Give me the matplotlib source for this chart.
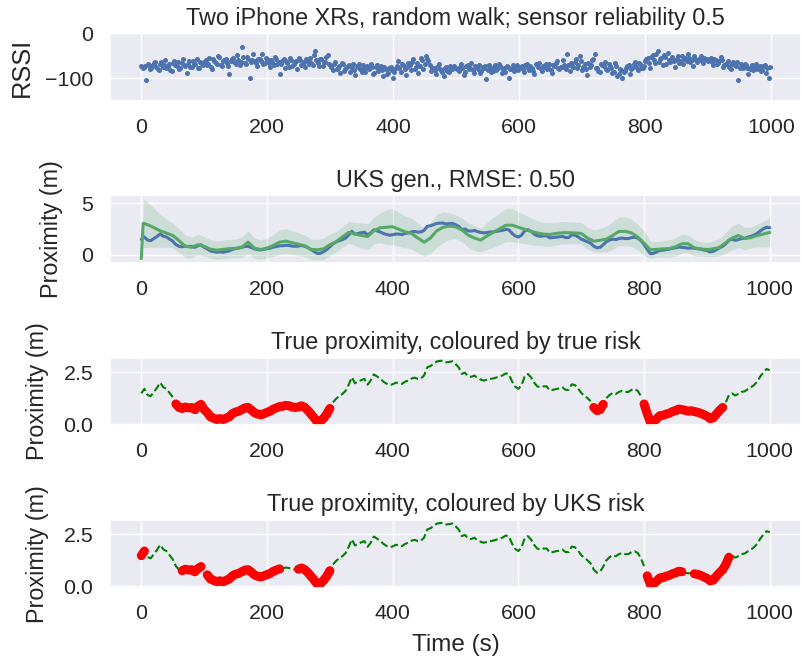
import numpy as np
import matplotlib
matplotlib.use("Agg")
import matplotlib.pyplot as plt
import seaborn as sns

# RSSI samples, one every 4 s (even slots) ...
rssi = [
    -73, -75, -104, -70, -78, -66, -74, -82, -63, -71, -77, -68, -84, -61, -72, -79, -65, -70, -87, -62, -74, -67, -58, -76, -69,
    -64, -71, -55, -80, -62, -68, -52, -73, -60, -66, -91, -57, -63, -48, -70, -31, -65, -53, -98, -59, -61, -72, -56, -45, -66,
    -58, -74, -63, -52, -69, -90, -61, -77, -66, -55, -72, -64, -80, -59, -68, -75, -62, -54, -70, -40, -66, -57, -73, -63, -49,
    -70, -82, -64, -76, -88, -69, -79, -73, -85, -67, -93, -74, -80, -71, -86, -77, -68, -90, -75, -83, -72, -95, -79, -87, -74,
    -100, -78, -62, -85, -70, -93, -66, -82, -58, -75, -88, -54, -80, -50, -62, -84, -76, -90, -68, -82, -95, -74, -86, -79, -72,
    -76, -84, -69, -92, -73, -80, -66, -87, -75, -71, -83, -78, -102, -70, -86, -74, -81, -68, -88, -77, -73, -100, -79, -84, -70,
    -78, -72, -85, -69, -81, -76, -90, -71, -66, -83, -74, -79, -68, -87, -73, -62, -80, -75, -70, -46, -84, -72, -64, -77, -50,
    -82, -68, -92, -75, -60, -45, -78, -86, -70, -64, -81, -73, -88, -66, -95, -79, -98, -84, -72, -90, -76, -63, -81, -69, -77,
    -62, -55, -78, -48, -66, -40, -58, -71, -52, -44, -64, -57, -75, -50, -61, -68, -54, -47, -63, -72, -56, -60, -51, -66, -58,
    -62, -55, -70, -59, -66, -53, -74, -68, -61, -80, -64, -72, -104, -67, -78, -70, -90, -75, -82, -69, -77, -84, -73, -88, -100,
]
# ... and the samples in between (odd 2 s slots)
rssi_odd = [
    -76, -72, -69, -80, -71, -64, -79, -68, -75, -60, -73, -82, -66, -70, -63, -76, -58, -72, -67, -74, -61, -69, -78, -63, -71,
    -60, -67, -74, -58, -65, -50, -70, -62, -56, -72, -61, -54, -68, -59, -64, -52, -69, -57, -63, -47, -66, -58, -61, -68, -55,
    -66, -60, -71, -57, -64, -68, -56, -62, -74, -59, -67, -61, -55, -70, -63, -58, -69, -65, -48, -60, -72, -57, -64, -52, -68,
    -75, -68, -80, -72, -66, -84, -74, -70, -78, -81, -73, -69, -85, -76, -72, -80, -74, -87, -70, -78, -82, -75, -90, -77, -81,
    -85, -72, -77, -67, -80, -74, -70, -63, -79, -66, -73, -60, -68, -57, -71, -78, -82, -74, -79, -86, -77, -83, -72, -80, -76,
    -80, -74, -78, -85, -70, -77, -82, -73, -79, -88, -75, -72, -81, -76, -84, -70, -78, -73, -80, -86, -75, -79, -71, -77, -82,
    -74, -80, -71, -77, -73, -84, -69, -75, -79, -72, -68, -76, -82, -70, -65, -78, -74, -60, -80, -71, -66, -75, -58, -70, -62,
    -74, -79, -66, -71, -58, -76, -83, -69, -73, -80, -67, -77, -85, -72, -90, -82, -86, -76, -70, -79, -68, -74, -65, -78, -72,
    -58, -66, -52, -60, -45, -63, -55, -49, -67, -59, -53, -61, -56, -65, -51, -58, -62, -55, -60, -50, -64, -57, -62, -54, -60,
    -58, -64, -57, -69, -62, -60, -71, -65, -74, -67, -70, -63, -78, -73, -68, -76, -80, -71, -74, -79, -72, -81, -70, -76, -74,
]
rssi_step = 4

# true proximity (m), one every 5 s
true_prox = [
    1.48, 1.70, 1.40, 1.35, 1.55, 1.75, 2.00, 1.78, 1.70, 1.50,
    1.30, 0.97, 0.80, 0.75, 0.82, 0.78, 0.80, 0.70, 0.85, 0.95,
    0.70, 0.55, 0.35, 0.28, 0.22, 0.26, 0.22, 0.28, 0.35, 0.50,
    0.58, 0.62, 0.70, 0.78, 0.80, 0.68, 0.55, 0.48, 0.45, 0.50,
    0.56, 0.62, 0.72, 0.78, 0.84, 0.86, 0.90, 0.88, 0.82, 0.80,
    0.82, 0.88, 0.80, 0.66, 0.48, 0.30, 0.10, 0.12, 0.28, 0.48,
    0.75, 1.05, 1.22, 1.35, 1.45, 1.60, 1.90, 2.26, 1.97, 2.05,
    2.12, 2.18, 1.90, 2.10, 2.40, 2.30, 2.20, 2.05, 1.95, 1.88,
    1.92, 2.00, 1.98, 1.94, 2.05, 2.10, 2.20, 2.24, 2.18, 2.20,
    2.35, 2.74, 2.80, 2.90, 3.02, 3.05, 3.06, 2.98, 3.00, 3.03,
    2.90, 2.74, 2.42, 2.48, 2.30, 2.28, 2.34, 2.22, 2.15, 2.10,
    2.14, 2.18, 2.20, 2.25, 2.30, 2.35, 2.45, 2.40, 2.05, 1.80,
    1.70, 1.88, 2.30, 2.42, 2.26, 2.00, 1.82, 1.77, 1.82, 1.82,
    1.62, 1.65, 1.69, 1.72, 1.77, 1.65, 1.65, 1.92, 1.88, 1.72,
    1.50, 1.37, 1.25, 1.10, 0.80, 0.65, 0.70, 0.95, 1.25, 1.40,
    1.50, 1.45, 1.55, 1.60, 1.55, 1.55, 1.65, 1.69, 1.60, 1.35,
    0.97, 0.50, 0.08, 0.12, 0.25, 0.40, 0.42, 0.48, 0.52, 0.60,
    0.65, 0.72, 0.70, 0.66, 0.62, 0.64, 0.60, 0.57, 0.52, 0.45,
    0.38, 0.26, 0.30, 0.48, 0.65, 0.80, 1.05, 1.40, 1.48, 1.38,
    1.45, 1.55, 1.58, 1.68, 1.77, 1.88, 2.05, 2.30, 2.50, 2.66,
    2.60,
]
prox_step = 5

# UKS estimate and band half-width
uks_t = [0, 3] + list(range(10, 1001, 10))
uks_est = [
    -0.40, 3.05, 2.90, 2.62, 2.30, 2.08, 1.85, 1.35, 0.80, 0.70, 0.95,
    0.80, 0.52, 0.42, 0.50, 0.57, 0.60, 0.72, 1.20, 0.62, 0.48,
    0.62, 0.88, 1.20, 1.30, 1.15, 1.00, 0.85, 0.50, 0.45, 0.55,
    0.95, 1.25, 1.70, 2.15, 2.00, 1.85, 1.75, 2.30, 2.60, 2.65,
    2.70, 2.45, 2.20, 2.05, 1.60, 1.20, 1.60, 2.30, 2.65, 2.76,
    2.70, 2.40, 1.90, 1.60, 1.40, 1.80, 2.15, 2.50, 2.85, 2.85,
    2.65, 2.45, 2.25, 2.10, 1.98, 1.95, 2.05, 2.12, 2.12, 2.10,
    2.05, 1.60, 1.30, 1.38, 1.50, 1.85, 2.25, 2.25, 2.10, 1.70,
    1.10, 0.46, 0.50, 0.55, 0.58, 0.75, 1.05, 1.05, 0.65, 0.55,
    0.48, 0.55, 0.70, 1.15, 1.60, 1.85, 1.55, 1.65, 1.85, 2.00,
    2.15,
]
uks_hw = [
    0.00, 2.40, 2.20, 1.90, 1.60, 1.35, 1.20, 1.15, 1.10, 1.00, 1.00,
    0.95, 0.90, 0.90, 0.90, 0.90, 0.90, 1.00, 1.10, 1.00, 0.95,
    0.95, 1.05, 1.20, 1.20, 1.15, 1.10, 1.05, 1.00, 1.00, 1.05,
    1.05, 1.00, 1.00, 1.05, 1.15, 1.22, 1.25, 1.30, 1.45, 1.70,
    1.75, 1.65, 1.55, 1.50, 1.45, 1.40, 1.50, 1.60, 1.50, 1.30,
    1.15, 1.15, 1.20, 1.20, 1.15, 1.30, 1.45, 1.55, 1.60, 1.60,
    1.50, 1.40, 1.30, 1.20, 1.15, 1.15, 1.10, 1.10, 1.05, 1.05,
    1.05, 1.05, 1.08, 1.15, 1.25, 1.35, 1.40, 1.40, 1.30, 1.25,
    1.20, 0.85, 0.75, 0.80, 0.85, 0.90, 0.90, 0.85, 0.80, 0.70,
    0.70, 0.75, 0.85, 1.00, 1.15, 1.20, 1.10, 1.00, 1.10, 1.25,
    1.40,
]

# time spans (s) flagged as risky
true_risk = [(55, 300), (720, 735), (800, 925)]
uks_risk = [(0, 5), (65, 95), (105, 175), (180, 220), (250, 300), (805, 860), (880, 935)]

sns.set_theme(style="darkgrid")
plt.rcParams["font.family"] = ["Liberation Sans", "DejaVu Sans"]

BLUE = "#4C72B0"
GREEN = "#55A868"
TITLE_FS = 16.8
YLABEL_FS = 16.8
XLABEL_FS = 17.5
TICK_FS = 15.4

rssi_t = np.concatenate([np.arange(len(rssi)) * rssi_step,
                         np.arange(len(rssi_odd)) * rssi_step + rssi_step // 2])
rssi_all = np.concatenate([rssi, rssi_odd])
prox = np.array(true_prox)
prox_t = np.arange(len(prox)) * prox_step
uks_t = np.array(uks_t)
uks_est = np.array(uks_est)
uks_hw = np.array(uks_hw)


def risk_mask(spans):
    mask = np.zeros(len(prox_t), dtype=bool)
    for a, b in spans:
        mask |= (prox_t >= a) & (prox_t <= b)
    return mask


fig, axes = plt.subplots(4, 1, figsize=(8.02, 6.64), dpi=100)
fig.subplots_adjust(left=0.137, right=0.999, top=0.950, bottom=0.115, hspace=1.39)

ax = axes[0]
ax.plot(rssi_t, rssi_all, "o", color=BLUE, ms=3.6, mew=0)
ax.set_ylim(-150, 0)
ax.set_yticks([-100, 0])
ax.set_title("Two iPhone XRs, random walk; sensor reliability 0.5", fontsize=TITLE_FS)
ax.set_ylabel("RSSI", fontsize=YLABEL_FS + 1.5, labelpad=8)

ax = axes[1]
ax.fill_between(uks_t[1:], (uks_est - uks_hw)[1:], (uks_est + uks_hw)[1:],
                color=GREEN, alpha=0.2, lw=0)
ax.plot(prox_t, prox, color=BLUE, lw=2.2)
ax.plot(uks_t, uks_est, color=GREEN, lw=2.2)
ax.set_title("UKS gen., RMSE: 0.50", fontsize=TITLE_FS)
ax.set_ylabel("Proximity (m)", fontsize=YLABEL_FS, labelpad=13)

for ax, spans, ttl in [(axes[2], true_risk, "True proximity, coloured by true risk"),
                       (axes[3], uks_risk, "True proximity, coloured by UKS risk")]:
    mask = risk_mask(spans)
    ax.plot(prox_t, np.where(mask, np.nan, prox), "--", color="#008000", lw=1.5)
    ax.plot(prox_t, np.where(mask, prox, np.nan), "-", color="#FF0000", lw=6.5,
            solid_capstyle="round", marker="o", ms=5, mew=0)
    ax.set_title(ttl, fontsize=TITLE_FS)
    ax.set_ylabel("Proximity (m)", fontsize=YLABEL_FS, labelpad=10)
    ax.set_yticks([0.0, 2.5])
    ax.set_yticklabels(["0.0", "2.5"])

axes[3].set_xlabel("Time (s)", fontsize=XLABEL_FS, labelpad=8)

for ax in axes:
    ax.set_xticks([0, 200, 400, 600, 800, 1000])
    ax.tick_params(labelsize=TICK_FS, pad=6)

fig.savefig("out.png", dpi=100)
